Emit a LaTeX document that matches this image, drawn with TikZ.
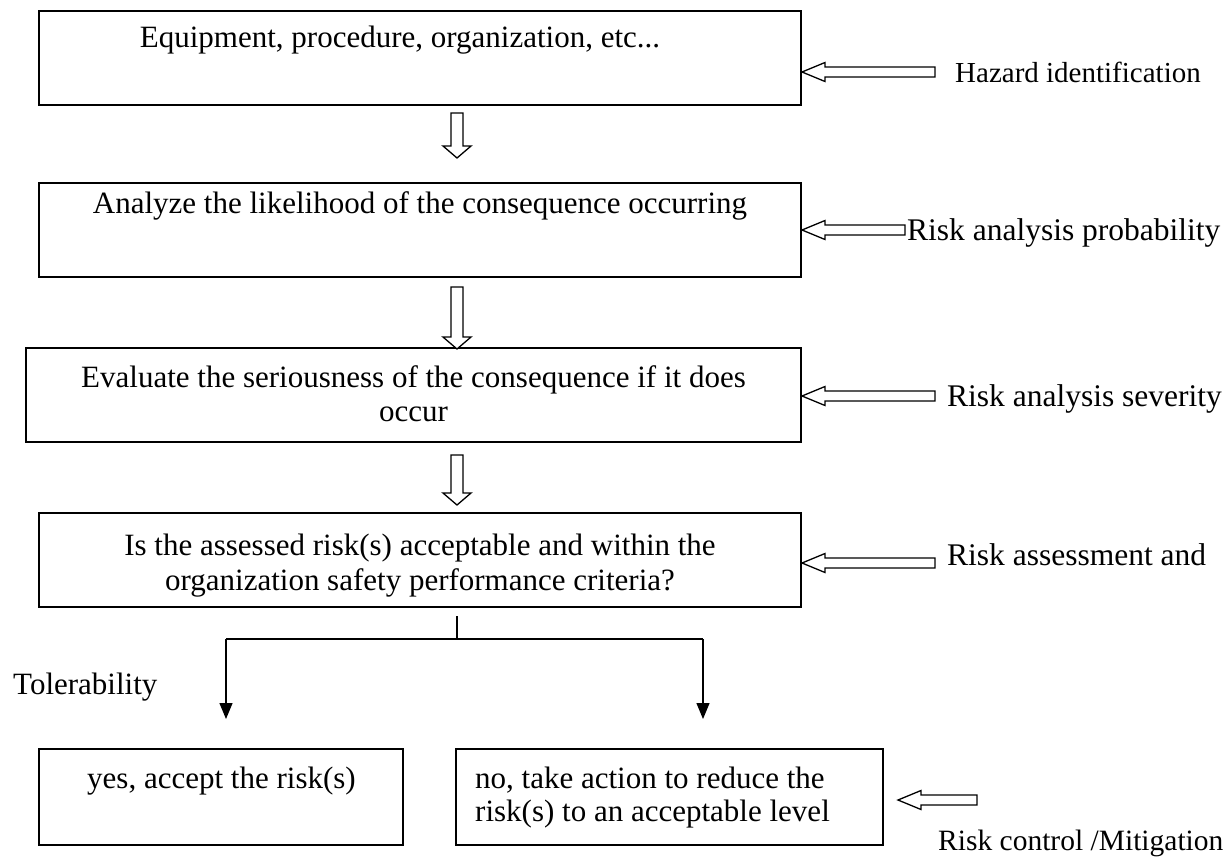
\documentclass[tikz,border=0pt]{standalone}
\usepackage{fontspec}
\setmainfont{Liberation Serif}
\usetikzlibrary{arrows.meta,calc}
\newcommand\harrowL[3]{% tip x, y, tail x
  \draw[hol] (#1,#2) -- (#1+23,#2-9.5) -- (#1+23,#2-5) -- (#3,#2-5) -- (#3,#2+5) -- (#1+23,#2+5) -- (#1+23,#2+9.5) -- cycle;}
\newcommand\harrowD[3]{% x, top y, tip y
  \draw[hol] (#1,#3) -- (#1-14,#3-12) -- (#1-6,#3-12) -- (#1-6,#2) -- (#1+6,#2) -- (#1+6,#3-12) -- (#1+14,#3-12) -- cycle;}
\begin{document}
\begin{tikzpicture}[x=1pt,y=-1pt,
  box/.style={draw,line width=1.7pt,inner sep=0pt,outer sep=0pt},
  txt/.style={inner sep=0pt,anchor=base,font=\fontsize{31}{36}\selectfont},
  ltxt/.style={txt,anchor=base west},
  side/.style={inner sep=0pt,anchor=base west,font=\fontsize{31.5}{36}\selectfont},
  hol/.style={draw,line width=1.3pt,line join=miter,fill=white},
  conn/.style={line width=1.3pt},
  arr/.style={conn,-{Triangle[length=16pt,width=13pt]}}]
\useasboundingbox (0,0) rectangle (1231,857);
% boxes
\node[box,minimum width=762pt,minimum height=94pt] (b1) at (420,58) {};
\node[box,minimum width=762pt,minimum height=94pt] (b2) at (420,230) {};
\node[box,minimum width=775pt,minimum height=94pt] (b3) at (413.5,395) {};
\node[box,minimum width=762pt,minimum height=94pt] (b4) at (420,560) {};
\node[box,minimum width=364pt,minimum height=96pt] (b5) at (221,797) {};
\node[box,minimum width=427pt,minimum height=96pt] (b6) at (669.5,797) {};
% box texts
\node[txt] (t1) at (400,47) {Equipment, procedure, organization, etc...};
\node[txt] (t2) at (420,213) {Analyze the likelihood of the consequence occurring};
\node[txt] (t3a) at (413.5,387) {Evaluate the seriousness of the consequence if it does};
\node[txt] (t3b) at (413.5,421) {occur};
\node[txt] (t4a) at (420,555) {Is the assessed risk(s) acceptable and within the};
\node[txt] (t4b) at (420,590) {organization safety performance criteria?};
\node[ltxt] (t5) at (87,788) {yes, accept the risk(s)};
\node[ltxt] (t6a) at (475,788) {no, take action to reduce the};
\node[ltxt] (t6b) at (475,821) {risk(s) to an acceptable level};
% side labels
\node[side,font=\fontsize{29}{34}\selectfont] (l1) at (955,82) {Hazard identification};
\node[side] (l2) at (907,240) {Risk analysis probability};
\node[side] (l3) at (947,406) {Risk analysis severity};
\node[side] (l4) at (947,565) {Risk assessment and};
\node[side,font=\fontsize{29.5}{34}\selectfont] (l5) at (938,850) {Risk control /Mitigation};
\node[side,font=\fontsize{31}{36}\selectfont] (l6) at (13,694) {Tolerability};
% hollow arrows pointing left
\harrowL{802}{72}{935}
\harrowL{802}{230}{905}
\harrowL{802}{396}{935}
\harrowL{802}{563}{935}
\harrowL{898}{800}{977}
% hollow arrows pointing down
\harrowD{457}{113}{158}
\harrowD{457}{287}{349}
\harrowD{457}{455}{505}
% branch
\coordinate (s0) at (457,616);
\coordinate (s1) at (457,639);
\coordinate (sl) at (226,639);
\coordinate (sr) at (703,639);
\coordinate (el) at (226,719);
\coordinate (er) at (703,719);
\draw[conn] (s0) -- (s1);
\draw[conn] (sl) -- (sr);
\draw[arr] (sl) -- (el);
\draw[arr] (sr) -- (er);
\end{tikzpicture}
\end{document}
